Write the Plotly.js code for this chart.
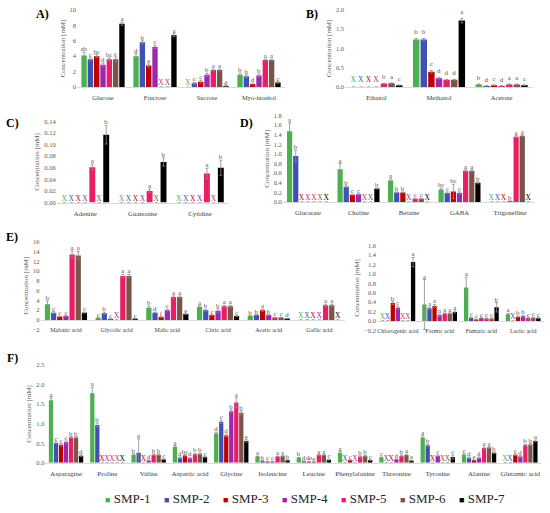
<!DOCTYPE html>
<html><head><meta charset="utf-8">
<script src="https://cdn.plot.ly/plotly-3.0.1.min.js"></script>
<style>html,body{margin:0;padding:0;background:#fff}#chart{width:550px;height:513px}</style>
</head><body><div id="chart"></div>
<script>
const SERIES = ['SMP-1','SMP-2','SMP-3','SMP-4','SMP-5','SMP-6','SMP-7'];
const COLORS = ['#4CAF50','#3F51B5','#C00000','#9C27B0','#E91E63','#795548','#000000'];

// ---- Panel A (rows = SMP-1..SMP-7) ----
const catsA = ['Glucose','Fructose','Sucrose','Myo-inositol'];
const valsA = [[4.1,4.0,0,1.6],[3.6,5.8,0.5,1.4],[4.0,2.8,0.7,0.4],[2.9,5.2,1.6,1.5],[3.6,0,2.2,3.5],[3.6,0,2.2,3.5],[8.2,6.7,0.15,0.6]];
const errA  = [[0.4,0.3,0,0.2],[0.2,0.2,0.1,0.2],[0.2,0.2,0.2,0.1],[0.2,0.2,0.2,0.2],[0.2,0,0.1,0.1],[0.3,0,0.1,0.1],[0.2,0.2,0.05,0.1]];
const letA  = [['ab','d','X','b'],['c','b','c','b'],['bc','e','c','d'],['d','c','b','b'],['bc','X','a','a'],['c','X','a','a'],['a','a','d','c']];

// ---- Panel B ----
const catsB = ['Ethanol','Methanol','Acetone'];
const valsB = [[0,1.23,0.07],[0,1.23,0.03],[0,0.40,0.05],[0,0.23,0.03],[0.09,0.19,0.07],[0.10,0.19,0.07],[0.05,1.72,0.05]];
const errB  = [[0,0.03,0.01],[0,0.03,0.01],[0,0.03,0.01],[0,0.02,0.01],[0.01,0.01,0.01],[0.01,0.01,0.01],[0.01,0.06,0.01]];
const letB  = [['X','b','b'],['X','b','d'],['X','c','c'],['X','d','d'],['b','d','a'],['a','d','a'],['c','a','c']];

// ---- Panel C ----
const catsC = ['Adenine','Guanosine','Cytidine'];
const valsC = [[0,0,0],[0,0,0],[0,0,0],[0,0,0],[0.061,0.020,0.050],[0,0,0],[0.117,0.070,0.060]];
const errC  = [[0,0,0],[0,0,0],[0,0,0],[0,0,0],[0.005,0.003,0.009],[0,0,0],[0.016,0.007,0.013]];
const letC  = [['X','X','X'],['X','X','X'],['X','X','X'],['X','X','X'],['a','a','a'],['X','X','X'],['b','b','b']];

// ---- Panel D ----
const catsD = ['Glucarate','Choline','Betaine','GABA','Trigonelline'];
const valsD = [[1.47,0.68,0.45,0.26,0],[0.96,0.32,0.20,0.19,0],[0,0.15,0.20,0.22,0],[0,0.16,0,0.19,0.02],[0,0,0.07,0.65,1.36],[0,0,0.07,0.65,1.38],[0,0.28,0,0.40,0]];
const errD  = [[0.17,0.12,0.03,0.03,0],[0.12,0.02,0.01,0.02,0],[0,0.01,0.01,0.15,0],[0,0.01,0,0.02,0.005],[0,0,0.01,0.02,0.02],[0,0,0.01,0.02,0.02],[0,0.01,0,0.02,0]];
const letD  = [['a','a','a','bc','X'],['b','b','b','c','X'],['X','c','b','bc','X'],['X','c','X','c','b'],['X','X','c','a','a'],['X','X','c','a','a'],['X','b','X','b','X']];

// ---- Panel E (left) ----
const catsE1 = ['Malonic acid','Glycolic acid','Malic acid','Citric acid','Acetic acid','Gallic acid'];
const valsE1 = [[3.2,0.4,2.5,2.7,0.8,0],[1.5,1.4,1.5,2.0,1.0,0],[0.7,0.2,0.6,1.0,2.0,0],[0.8,0,2.0,1.9,1.0,0],[13.4,9.0,4.7,2.8,0.5,3.0],[13.2,9.0,4.7,2.8,0.5,3.0],[1.5,0.25,1.2,0.8,0.3,0]];
const errE1  = [[0.7,0.1,0.3,0.2,0.1,0],[0.2,0.2,0.1,0.2,0.1,0],[0.1,0.05,0.1,0.1,0.2,0],[0.1,0,0.2,0.4,0.1,0],[0.7,0.3,0.2,0.2,0.05,0.2],[0.8,0.3,0.2,0.2,0.05,0.2],[0.1,0.05,0.1,0.1,0.05,0]];
const letE1  = [['b','c','b','a','b','X'],['c','b','d','b','b','X'],['c','c','f','c','a','X'],['c','X','c','b','b','X'],['a','a','a','a','c','a'],['a','a','a','a','c','a'],['c','c','e','c','d','X']];

// ---- Panel E (right) ----
const catsE2 = ['Chlorogenic acid','Formic acid','Fumaric acid','Lactic acid'];
const valsE2 = [[0,0.35,0.71,0.14],[0,0.27,0.07,0],[0.38,0.32,0.03,0.09],[0.28,0.12,0.06,0.10],[0,0.16,0.05,0.06],[0,0.16,0.05,0.07],[1.25,0.19,0.29,0.06]];
const errE2  = [[0,0.53,0.22,0.02],[0,0.02,0.01,0],[0.03,0.03,0.01,0.01],[0.03,0.02,0.01,0.02],[0,0.01,0.01,0.01],[0,0.01,0.01,0.01],[0.1,0.02,0.1,0.01]];
const letE2  = [['X','a','a','a'],['X','a','c','X'],['b','a','c','b'],['c','a','c','b'],['X','a','c','c'],['X','a','c','c'],['a','a','b','c']];

// ---- Panel F ----
const catsF = ['Asparagine','Proline','Valine','Aspartic acid','Glycine','Isoleucine','Leucine','Phenylalanine','Threonine','Tyrosine','Alanine','Glutamic acid'];
const valsF = [
  [1.60,1.78,0.21,0.41,0.75,0.16,0.13,0.26,0.14,0.65,0.21,0],
  [0.51,0.97,0.26,0.13,1.05,0.05,0.04,0,0,0.45,0.13,0],
  [0.46,0,0,0.19,0.70,0.03,0.03,0.07,0,0,0.07,0.21],
  [0.53,0,0.06,0.12,1.32,0.03,0.02,0,0.09,0.18,0.13,0.16],
  [0.65,0,0.21,0.22,1.54,0.16,0.20,0.16,0.18,0,0.38,0.45],
  [0.65,0,0.21,0.23,1.28,0.17,0.20,0.18,0.20,0,0.39,0.47],
  [0.18,0,0.09,0.15,0.56,0.07,0.08,0.07,0.06,0.15,0.26,0.56]];
const errF = [
  [0.06,0.15,0.02,0.03,0.03,0.01,0.01,0.03,0.01,0.04,0.02,0],
  [0.03,0.05,0.35,0.02,0.04,0.01,0.01,0,0,0.03,0.02,0],
  [0.03,0,0,0.02,0.03,0.01,0.01,0.01,0,0,0.01,0.02],
  [0.03,0,0.01,0.02,0.04,0.01,0.01,0,0.01,0.02,0.02,0.02],
  [0.02,0,0.02,0.02,0.12,0.01,0.01,0.02,0.02,0,0.02,0.02],
  [0.02,0,0.02,0.02,0.05,0.01,0.01,0.02,0.02,0,0.02,0.02],
  [0.02,0,0.01,0.01,0.03,0.01,0.01,0.01,0.01,0.05,0.02,0.02]];
const letF = [
  ['a','a','b','a','d','a','b','a','c','a','c','X'],
  ['c','b','a','d','c','b','d','X','X','b','d','X'],
  ['c','X','X','bc','d','c','de','c','X','X','e','c'],
  ['c','X','d','d','b','c','e','X','d','c','d','d'],
  ['b','X','b','b','a','a','a','b','b','X','a','b'],
  ['b','X','b','b','b','a','a','b','a','X','a','b'],
  ['d','X','c','c','e','b','c','c','e','c','b','a']];

const SERIF = 'Liberation Serif, Times New Roman, serif';
const W = 550, H = 513;
// panel frames in pixels: [left, right, bottomPx(y range min), topPx(y range max)]
const panels = [
  {cats:catsA, vals:valsA, errs:errA, lets:letA, px:[77,285,89,10], yr:[0,10], dt:2, fmt:'d', xf:6.5, lab:'A)', lp:[42,14]},
  {cats:catsB, vals:valsB, errs:errB, lets:letB, px:[345,533,89,10], yr:[0,2], dt:0.5, fmt:'.1f', xf:6.5, lab:'B)', lp:[312,14]},
  {cats:catsC, vals:valsC, errs:errC, lets:letC, px:[56.7,228.6,207,124], yr:[0,0.14], dt:0.02, fmt:'.2f', xf:6.8, lab:'C)', lp:[12,126]},
  {cats:catsD, vals:valsD, errs:errD, lets:letD, px:[282.75,535.25,206.5,118], yr:[0,1.8], dt:0.2, fmt:'.1f', xf:6.7, lab:'D)', lp:[246,126]},
  {cats:catsE1, vals:valsE1, errs:errE1, lets:letE1, px:[40.6,344.8,337,247], yr:[-2,16], dt:2, fmt:'d', xf:6, lab:'E)', lp:[12,242]},
  {cats:catsE2, vals:valsE2, errs:errE2, lets:letE2, px:[377,544,337.6,251], yr:[-0.2,1.6], dt:0.2, fmt:'.1f', xf:6, lab:null},
  {cats:catsF, vals:valsF, errs:errF, lets:letF, px:[45.4,541,473,373], yr:[0,2.5], dt:0.5, fmt:'.1f', xf:7, lab:'F)', lp:[12,366]}
];

const traces = [];
const layout = {
  width: W, height: H, margin:{l:0,r:0,t:0,b:0},
  paper_bgcolor:'#fff', plot_bgcolor:'rgba(0,0,0,0)',
  font:{family:SERIF, color:'#404040'},
  barmode:'group', bargap:0.15, bargroupgap:0.15,
  hovermode:false, annotations:[],
  showlegend:true,
  legend:{orientation:'h', x:65/W, y:1-494/H, xanchor:'left', yanchor:'top',
          font:{size:13, color:'#262626', family:SERIF}, itemwidth:30, entrywidth:14,
          bgcolor:'rgba(0,0,0,0)', itemclick:false, itemdoubleclick:false}
};

panels.forEach((p, k) => {
  const s = k === 0 ? '' : String(k + 1);
  const xa = 'xaxis' + s, ya = 'yaxis' + s;
  const xd = [p.px[0]/W, p.px[1]/W];
  const yd = [1 - p.px[2]/H, 1 - p.px[3]/H];
  const zeroPos = yd[0] + (0 - p.yr[0]) / (p.yr[1] - p.yr[0]) * (yd[1] - yd[0]);
  layout[xa] = {domain:xd, range:[-0.5, p.cats.length - 0.5], type:'category',
    anchor: p.yr[0] < 0 ? 'free' : 'y' + s, position: zeroPos,
    showline:true, linecolor:'#d9d9d9', linewidth:1, ticks:'', showgrid:false, zeroline:false,
    tickangle:0, ticklabelstandoff:4, tickfont:{size:p.xf, color:'#404040'}, fixedrange:true};
  layout[ya] = {domain:yd, range:p.yr, anchor:'x' + s, dtick:p.dt, tick0:0, tickformat:p.fmt,
    showline:false, ticks:'', showgrid:false, zeroline:false,
    tickfont:{size:6.5, color:'#595959'}, fixedrange:true,
    title:{text:'Concentration [mM]', font:{size:7, color:'#595959'}, standoff:3}};
  for (let i = 0; i < 7; i++) {
    traces.push({type:'bar', x:p.cats, y:p.vals[i], xaxis:'x' + s, yaxis:'y' + s,
      name:SERIES[i], offsetgroup:'g' + i, showlegend:false, hoverinfo:'skip',
      marker:{color:COLORS[i], line:{width:0}},
      error_y:{type:'data', array:p.errs[i], visible:true, color:'#8c8c8c', thickness:0.8, width:1.5}});
  }
  for (let i = 0; i < 7; i++) {
    const lets = p.lets[i];
    traces.push({type:'bar', x:p.cats, y:p.cats.map(() => 0),
      base:p.vals[i].map((v, j) => v + p.errs[i][j]),
      xaxis:'x' + s, yaxis:'y' + s, offsetgroup:'g' + i, showlegend:false, hoverinfo:'skip',
      marker:{color:'rgba(0,0,0,0)'},
      text:lets, textposition:'outside', textangle:0, constraintext:'none', cliponaxis:false,
      textfont:{family:SERIF, size:lets.map(t => t === 'X' ? 7.5 : 6.8),
                color:lets.map(t => t === 'X' ? COLORS[i] : '#505050')}});
  }
  if (p.lab) {
    layout.annotations.push({text:'<b>' + p.lab + '</b>', xref:'paper', yref:'paper',
      x:p.lp[0]/W, y:1 - p.lp[1]/H, showarrow:false, xanchor:'center', yanchor:'middle',
      font:{size:12, color:'#000', family:SERIF}});
  }
});

// legend entries
for (let i = 0; i < 7; i++) {
  traces.push({type:'scatter', mode:'markers', x:[null], y:[null], xaxis:'x7', yaxis:'y7',
    name:'<span style="font-size:9px;color:' + COLORS[i] + '">■</span> ' + SERIES[i],
    marker:{size:1, color:'rgba(0,0,0,0)'}, showlegend:true, hoverinfo:'skip'});
}
// spacer entry so the last legend label is not clipped
traces.push({type:'scatter', mode:'markers', x:[null], y:[null], xaxis:'x7', yaxis:'y7',
  name:'\u00a0\u00a0\u00a0', marker:{size:1, color:'rgba(0,0,0,0)'}, showlegend:true, hoverinfo:'skip'});

Plotly.newPlot('chart', traces, layout, {staticPlot:true, displayModeBar:false});
</script></body></html>
